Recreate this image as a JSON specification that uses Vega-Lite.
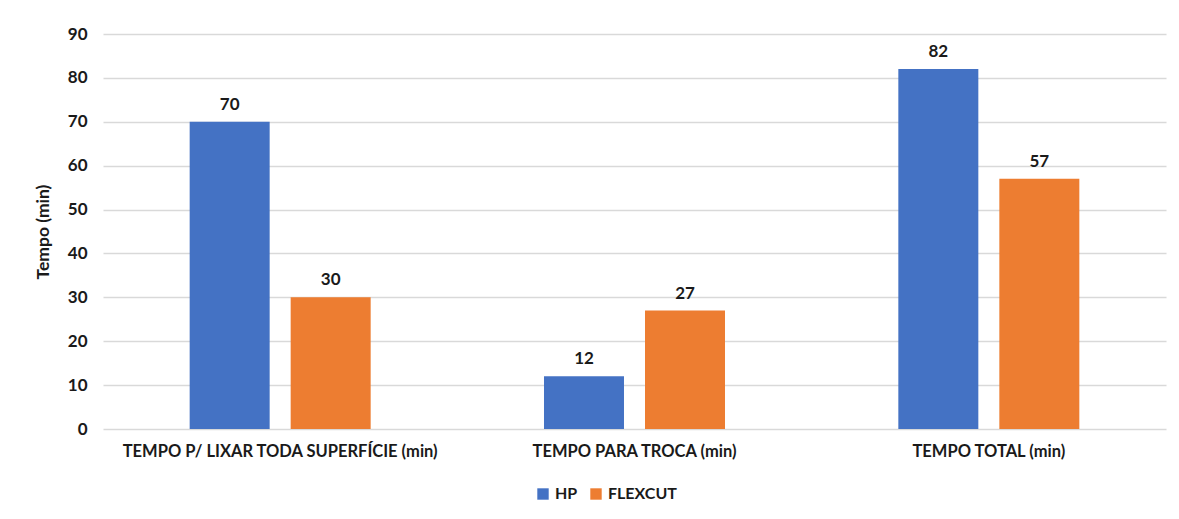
{
  "$schema": "https://vega.github.io/schema/vega-lite/v6.json",
  "autosize": {"type": "none"},
  "padding": {"left": 103, "top": 34, "right": 13, "bottom": 90},
  "width": 1063,
  "height": 395,
  "background": "white",
  "data": {
    "values": [
      {"categoria": "TEMPO P/ LIXAR TODA SUPERFÍCIE (min)", "serie": "HP", "tempo": 70},
      {"categoria": "TEMPO P/ LIXAR TODA SUPERFÍCIE (min)", "serie": "FLEXCUT", "tempo": 30},
      {"categoria": "TEMPO PARA TROCA (min)", "serie": "HP", "tempo": 12},
      {"categoria": "TEMPO PARA TROCA (min)", "serie": "FLEXCUT", "tempo": 27},
      {"categoria": "TEMPO TOTAL (min)", "serie": "HP", "tempo": 82},
      {"categoria": "TEMPO TOTAL (min)", "serie": "FLEXCUT", "tempo": 57}
    ]
  },
  "encoding": {
    "x": {
      "field": "categoria", "type": "nominal", "sort": null,
      "scale": {"paddingInner": 0, "paddingOuter": 0},
      "axis": {"title": null, "labelAngle": 0, "labelLimit": 0, "domain": false, "ticks": false, "labelPadding": 14, "labelFont": "Lato", "labelFontSize": 16.5, "labelFontWeight": "bold", "labelColor": "#1a1a1a"}
    },
    "xOffset": {
      "field": "serie", "type": "nominal", "sort": ["HP", "FLEXCUT"],
      "scale": {"paddingInner": 0.208, "paddingOuter": 0.858}
    },
    "y": {
      "field": "tempo", "type": "quantitative",
      "scale": {"domain": [0, 90]},
      "axis": {"title": "Tempo (min)", "values": [0,10,20,30,40,50,60,70,80,90], "domain": false, "ticks": false, "labelPadding": 16, "gridColor": "#d9d9d9", "gridWidth": 1.5, "labelFont": "Lato", "labelFontSize": 17, "labelFontWeight": "bold", "labelColor": "#1a1a1a", "titleFont": "Lato", "titleFontSize": 17.5, "titleFontWeight": "bold", "titleColor": "#1a1a1a", "titlePadding": 15}
    }
  },
  "layer": [
    {
      "mark": {"type": "bar"},
      "encoding": {
        "color": {
          "field": "serie", "type": "nominal", "sort": ["HP", "FLEXCUT"],
          "scale": {"domain": ["HP", "FLEXCUT"], "range": ["#4472c4", "#ed7d31"]},
          "legend": {"title": null, "orient": "none", "direction": "horizontal", "legendX": 432, "legendY": 452, "symbolType": "square", "symbolSize": 130, "symbolStrokeWidth": 0, "labelFont": "Lato", "labelFontSize": 16, "labelFontWeight": "bold", "labelColor": "#1a1a1a", "columnPadding": 10, "labelOffset": 4}
        }
      }
    },
    {
      "mark": {"type": "text", "baseline": "bottom", "dy": -8, "font": "Lato", "fontSize": 17, "fontWeight": "bold", "color": "#1a1a1a"},
      "encoding": {"text": {"field": "tempo", "type": "quantitative"}}
    }
  ],
  "config": {"view": {"stroke": null}}
}
